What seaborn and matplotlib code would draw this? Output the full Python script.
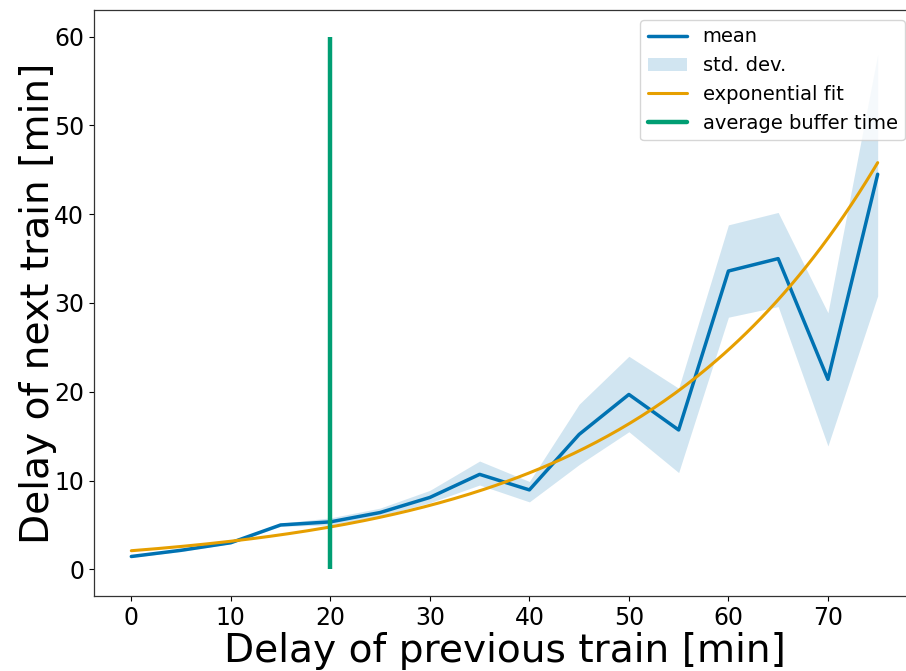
import numpy as np
import pandas as pd
import matplotlib
matplotlib.use("Agg")
import matplotlib.pyplot as plt
import seaborn as sns
from matplotlib.patches import Patch
from matplotlib.lines import Line2D

# data
prev_delay = [0, 5, 10, 15, 20, 25, 30, 35, 40, 45, 50, 55, 60, 65, 70, 75]
mean_delay = [1.45, 2.15, 3.0, 5.0, 5.35, 6.4, 8.1, 10.7, 8.95, 15.2, 19.7, 15.7, 33.6, 35.0, 21.4, 44.5]
std_upper = [1.55, 2.3, 3.1, 5.2, 5.8, 6.9, 8.9, 12.2, 9.9, 18.6, 24.0, 20.4, 38.8, 40.2, 28.9, 58.0]
std_lower = [1.35, 2.0, 2.9, 4.85, 5.0, 6.0, 7.5, 9.5, 7.6, 11.8, 15.5, 10.9, 28.4, 29.6, 13.9, 30.8]
fit_a = 2.1
fit_b = 0.0411
buffer_time = 20
buffer_range = [0, 60]

sns.set_theme(style="ticks")
plt.rcParams["font.family"] = ["DejaVu Sans"]
plt.rcParams["text.color"] = "black"
plt.rcParams["axes.labelcolor"] = "black"
blue, orange, green = "#0072B2", "#E69F00", "#009E73"

fig = plt.figure(figsize=(9.06, 6.71), dpi=100)
ax = fig.add_axes([94 / 906, 75 / 671, (915 - 94) / 906, (596 - 10) / 671])

df = pd.DataFrame({"x": prev_delay, "mean": mean_delay})
ax.fill_between(prev_delay, std_lower, std_upper, color=blue, alpha=0.18, linewidth=0)
sns.lineplot(data=df, x="x", y="mean", ax=ax, color=blue, linewidth=2.5)

xf = np.linspace(prev_delay[0], prev_delay[-1], 200)
fit_df = pd.DataFrame({"x": xf, "y": fit_a * np.exp(fit_b * xf)})
sns.lineplot(data=fit_df, x="x", y="y", ax=ax, color=orange, linewidth=2.2)

ax.vlines(buffer_time, buffer_range[0], buffer_range[1], color=green, linewidth=3.2)

ax.set_xlim(-3.75, 78.75)
ax.set_ylim(-3, 63)
ax.set_xticks([0, 10, 20, 30, 40, 50, 60, 70])
ax.set_yticks([0, 10, 20, 30, 40, 50, 60])
ax.tick_params(labelsize=17, length=3.5, width=0.8, colors="black")
for s in ax.spines.values():
    s.set_color("#333333")
    s.set_linewidth(0.9)
ax.set_xlabel("Delay of previous train [min]", fontsize=28.2, labelpad=2, color="black")
ax.set_ylabel("Delay of next train [min]", fontsize=28.2, labelpad=-2, color="black")

handles = [
    Line2D([0], [0], color=blue, linewidth=2.5),
    Patch(facecolor=blue, alpha=0.18, edgecolor="none"),
    Line2D([0], [0], color=orange, linewidth=2.2),
    Line2D([0], [0], color=green, linewidth=3.2),
]
labels = ["mean", "std. dev.", "exponential fit", "average buffer time"]
leg = ax.legend(handles, labels, loc="upper right", bbox_to_anchor=(1.0, 1.0),
                fontsize=14, frameon=True, framealpha=0.8, borderpad=0.4,
                labelspacing=0.5, handlelength=2.0)
for t in leg.get_texts():
    t.set_color("black")

fig.savefig("out.png", dpi=100)
